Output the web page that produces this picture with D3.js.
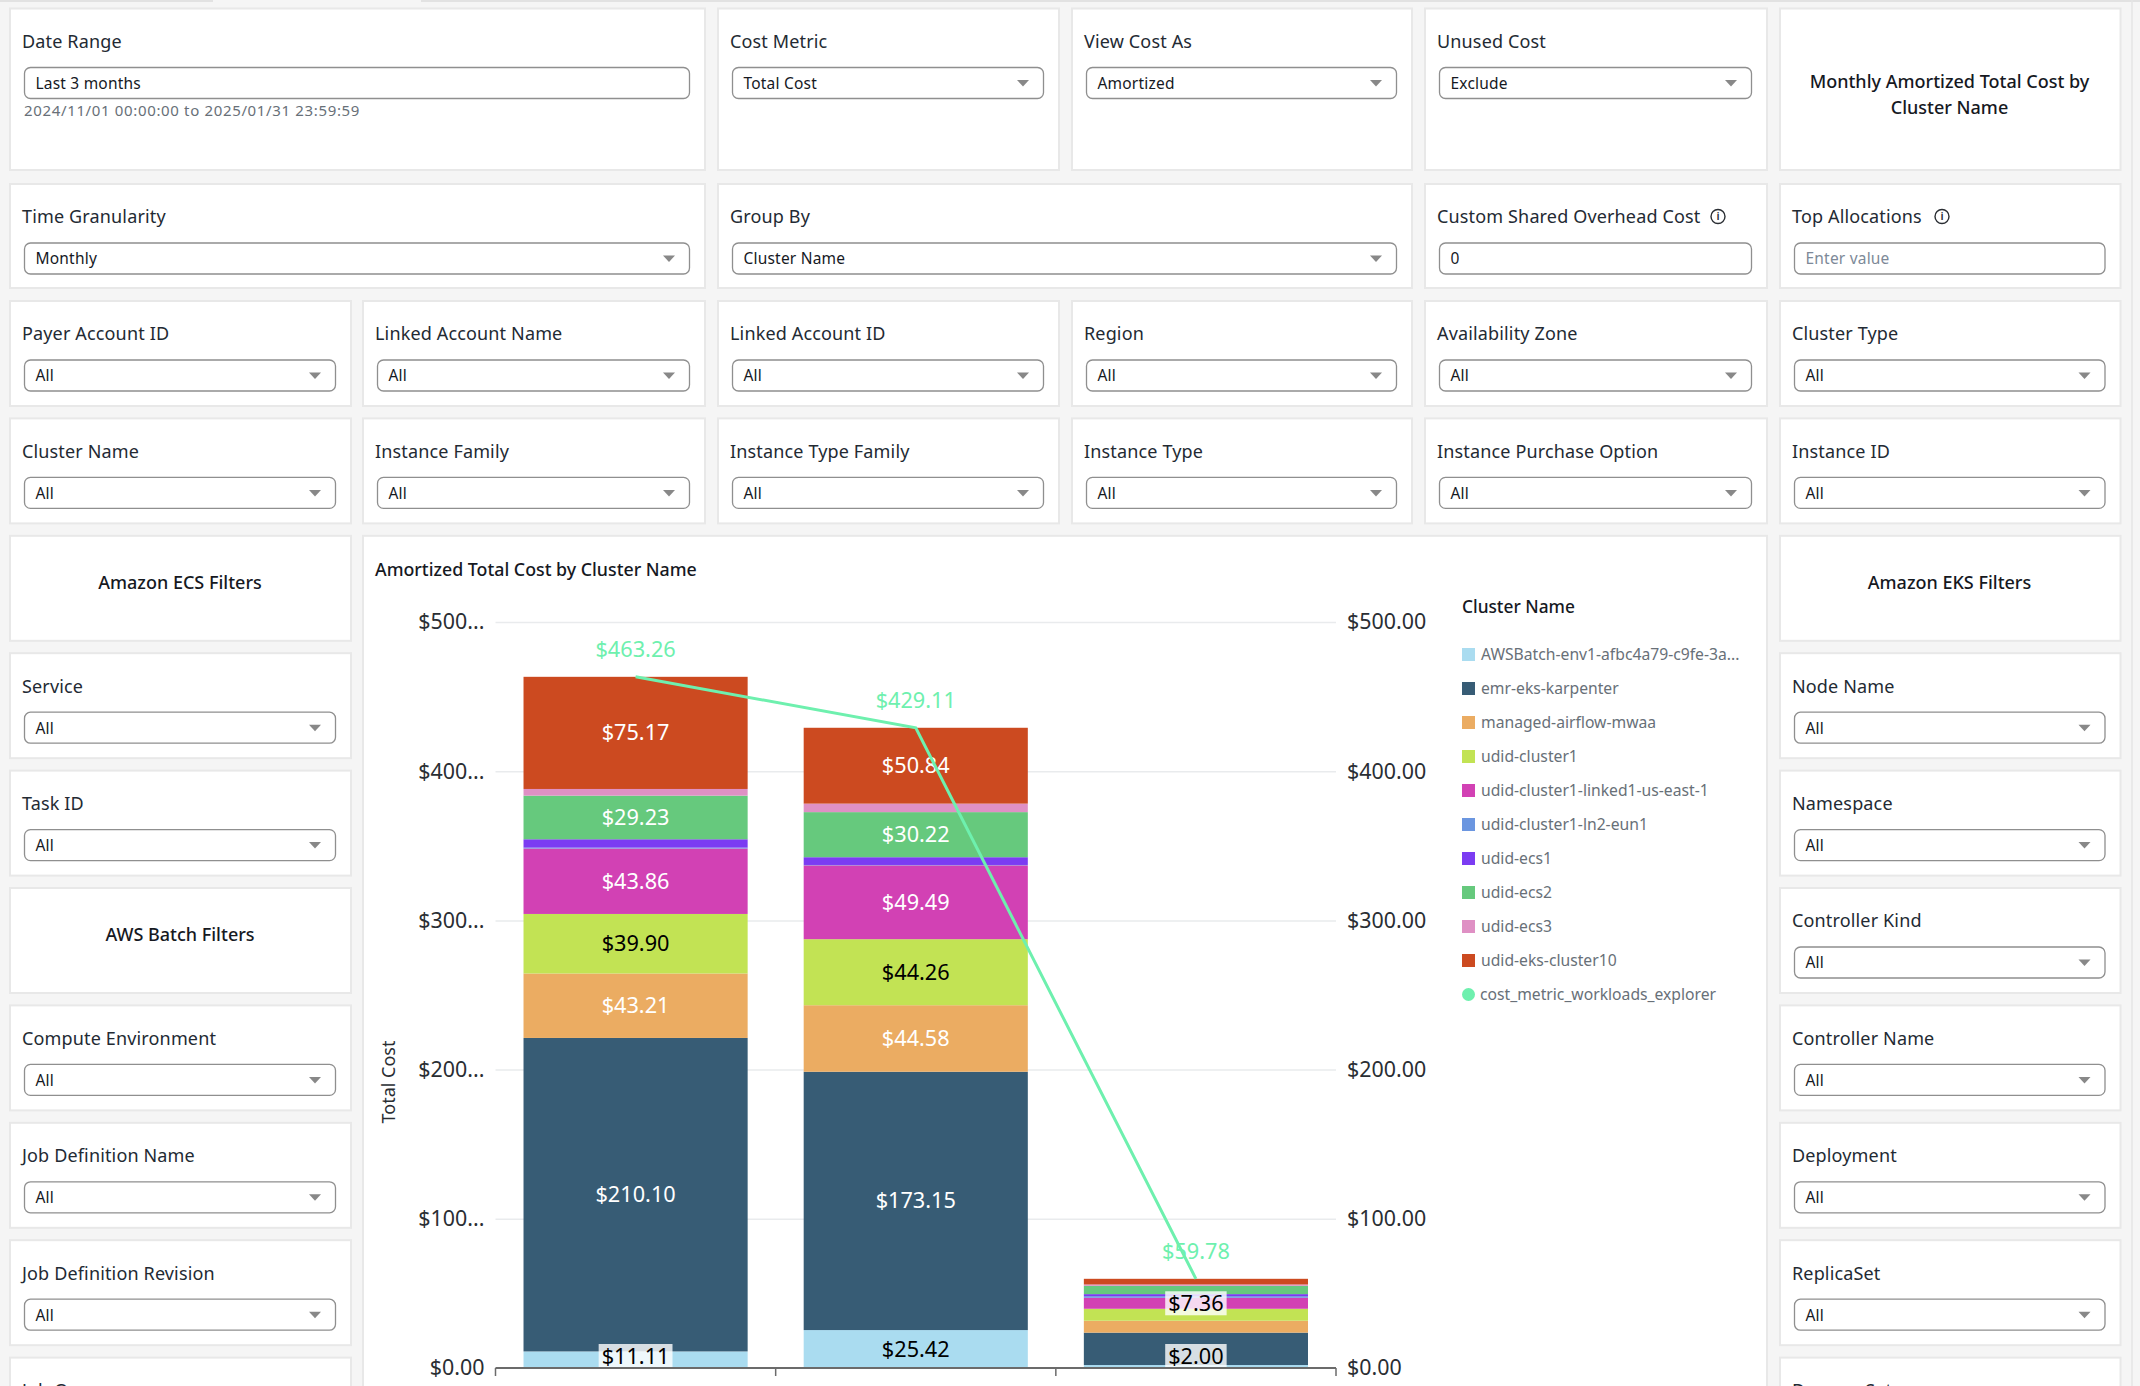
<!DOCTYPE html>
<html>
<head>
<meta charset="utf-8">
<title>Amortized Total Cost by Cluster Name</title>
<script src="https://cdn.jsdelivr.net/npm/d3@7"></script>
<style>
  html, body { margin: 0; padding: 0; background: #f5f5f5; overflow: hidden; }
  text { font-family: "Noto Sans", sans-serif; }
  .panel { fill: #fff; stroke: #e8e8e8; stroke-width: 2; }
  .box { fill: #fff; stroke: #8f8f8f; stroke-width: 1.3; }
  .label { font-size: 18px; letter-spacing: .15px; fill: #232a33; }
  .value { font-size: 15.5px; letter-spacing: .2px; fill: #16191f; }
  .heading { font-size: 18px; fill: #16191f; font-weight: 500; text-anchor: middle; }
  .axis text { font-size: 21.4px; fill: #2a2e33; }
  .seg { font-size: 21.7px; text-anchor: middle; }
  .legend { font-size: 15.7px; fill: #687078; }
</style>
</head>
<body>
<svg id="chart" width="2140" height="1386"></svg>
<script>
const months = ['Nov 2024', 'Dec 2024', 'Jan 2025'];
const clusters = [
  'AWSBatch-env1-afbc4a79-c9fe-3a...', 'emr-eks-karpenter', 'managed-airflow-mwaa', 'udid-cluster1',
  'udid-cluster1-linked1-us-east-1', 'udid-cluster1-ln2-eun1', 'udid-ecs1', 'udid-ecs2', 'udid-ecs3', 'udid-eks-cluster10'
];
const lineName = 'cost_metric_workloads_explorer';
const nov = [11.11, 210.10, 43.21, 39.90, 43.86, 0.6, 5.6, 29.23, 4.48, 75.17];
const dec = [25.42, 173.15, 44.58, 44.26, 49.49, 0.25, 5.2, 30.22, 5.7, 50.84];
const jan = [2.00, 21.7, 8.0, 8.0, 7.36, 1.1, 1.36, 5.56, 0.9, 3.8];
const totals = [463.26, 429.11, 59.78];
const labelled = [[0, 1, 2, 3, 4, 7, 9], [0, 1, 2, 3, 4, 7, 9], [0, 4]];
const boxedLabels = [[0], [], [0, 4]];
const colors = ['#aadcf0', '#375c75', '#ebac62', '#c2e354', '#d241b4', '#6b96e0', '#7b3cf2', '#66c97d', '#df90c4', '#cc4a20'];
const darkText = [0, 3];
const lineColor = '#6ef0ae';
const yTicks = [0, 100, 200, 300, 400, 500];

const row3 = ['Payer Account ID', 'Linked Account Name', 'Linked Account ID', 'Region', 'Availability Zone', 'Cluster Type'];
const row4 = ['Cluster Name', 'Instance Family', 'Instance Type Family', 'Instance Type', 'Instance Purchase Option', 'Instance ID'];
const leftStack = ['Service', 'Task ID', null, 'Compute Environment', 'Job Definition Name', 'Job Definition Revision', 'Job Queue'];
const rightStack = ['Node Name', 'Namespace', 'Controller Kind', 'Controller Name', 'Deployment', 'ReplicaSet', 'DaemonSet'];

const svg = d3.select('#chart');
const colX = [10, 363, 718, 1072, 1425, 1780];
const colEnd = [351, 705, 1059, 1412, 1767, 2120.5];
const rowY = i => 301 + 117.4 * i;

// top tab strip and page edge
svg.append('line').attr('x1', 0).attr('x2', 213).attr('y1', 1).attr('y2', 1).attr('stroke', '#e2e2e2').attr('stroke-width', 2);
svg.append('line').attr('x1', 421).attr('x2', 2140).attr('y1', 1).attr('y2', 1).attr('stroke', '#e2e2e2').attr('stroke-width', 2);
svg.append('line').attr('x1', 2132).attr('x2', 2132).attr('y1', 0).attr('y2', 1386).attr('stroke', '#e4e4e4').attr('stroke-width', 1.5);

function panel(c0, c1, y, h) {
  return svg.append('rect').attr('class', 'panel')
    .attr('x', colX[c0]).attr('y', y)
    .attr('width', colEnd[c1] - colX[c0]).attr('height', h);
}

function field(name, value, c0, c1, y, h, opts = {}) {
  panel(c0, c1, y, h);
  const x = colX[c0], right = colEnd[c1];
  svg.append('text').attr('class', 'label').attr('x', x + 12).attr('y', y + 33).attr('dy', '.35em').text(name);
  svg.append('rect').attr('class', 'box')
    .attr('x', x + 14.5).attr('y', y + 59).attr('width', right - x - 30).attr('height', 31).attr('rx', 6);
  svg.append('text').attr('class', 'value').attr('x', x + 25.5).attr('y', y + 75).attr('dy', '.35em')
    .style('fill', opts.placeholder ? '#7d8998' : null)
    .text(value);
  if (!opts.input) {
    const cx = right - 36, cy = y + 74.5;
    svg.append('path').attr('fill', '#888')
      .attr('d', d3.line()([[cx - 6, cy - 3], [cx + 6, cy - 3], [cx, cy + 3.5]]) + 'Z');
  }
}

function infoIcon(cx, cy) {
  svg.append('circle').attr('cx', cx).attr('cy', cy).attr('r', 7).attr('fill', 'none').attr('stroke', '#2a2e33').attr('stroke-width', 1.4);
  svg.append('text').attr('x', cx).attr('y', cy).attr('dy', '.36em').attr('text-anchor', 'middle')
    .style('font-size', '11px').style('font-weight', 600).attr('fill', '#2a2e33').text('i');
}

// top rows
field('Date Range', 'Last 3 months', 0, 1, 8.5, 161.5, { input: true });
svg.append('text').attr('x', 24).attr('y', 111).attr('dy', '.35em').style('font-size', '15px').style('letter-spacing', '.65px').attr('fill', '#687078')
  .text('2024/11/01 00:00:00 to 2025/01/31 23:59:59');
field('Cost Metric', 'Total Cost', 2, 2, 8.5, 161.5);
field('View Cost As', 'Amortized', 3, 3, 8.5, 161.5);
field('Unused Cost', 'Exclude', 4, 4, 8.5, 161.5);
panel(5, 5, 8.5, 161.5);
svg.append('text').attr('class', 'heading').attr('x', 1949.5).attr('y', 82).attr('dy', '.35em').text('Monthly Amortized Total Cost by');
svg.append('text').attr('class', 'heading').attr('x', 1949.5).attr('y', 108).attr('dy', '.35em').text('Cluster Name');

field('Time Granularity', 'Monthly', 0, 1, 184, 104);
field('Group By', 'Cluster Name', 2, 3, 184, 104);
field('Custom Shared Overhead Cost', '0', 4, 4, 184, 104, { input: true });
field('Top Allocations', 'Enter value', 5, 5, 184, 104, { input: true, placeholder: true });
infoIcon(1718, 216.5);
infoIcon(1942, 216.5);

row3.forEach((name, i) => field(name, 'All', i, i, rowY(0), 105));
row4.forEach((name, i) => field(name, 'All', i, i, rowY(1), 105));

// side stacks
panel(0, 0, rowY(2), 105);
svg.append('text').attr('class', 'heading').attr('x', 180).attr('y', rowY(2) + 47).attr('dy', '.35em').text('Amazon ECS Filters');
leftStack.forEach((name, i) => {
  if (name) field(name, 'All', 0, 0, rowY(3 + i), 105);
});
panel(0, 0, rowY(5), 105);
svg.append('text').attr('class', 'heading').attr('x', 180).attr('y', rowY(5) + 47).attr('dy', '.35em').text('AWS Batch Filters');

panel(5, 5, rowY(2), 105);
svg.append('text').attr('class', 'heading').attr('x', 1949.5).attr('y', rowY(2) + 47).attr('dy', '.35em').text('Amazon EKS Filters');
rightStack.forEach((name, i) => field(name, 'All', 5, 5, rowY(3 + i), 105));

// chart panel
panel(1, 4, rowY(2), 900);
svg.append('text').attr('x', 375).attr('y', 570).attr('dy', '.35em').style('font-size', '17.8px').style('font-weight', 500).attr('fill', '#16191f')
  .text('Amortized Total Cost by Cluster Name');

const x = d3.scaleBand().domain(months).range([495.5, 1336]).paddingInner(0.2).paddingOuter(0.1);
const y = d3.scaleLinear().domain([0, 500]).range([1368, 622]);

svg.append('g').attr('class', 'grid').attr('transform', 'translate(495.5,0)')
  .call(d3.axisLeft(y).tickValues(yTicks.slice(1)).tickSize(-840.5).tickFormat(''))
  .call(g => g.select('.domain').remove())
  .call(g => g.selectAll('line').attr('stroke', '#e9ebed').attr('stroke-width', 1.5));

const rowsByMonth = [nov, dec, jan];
const table = months.map((m, i) => {
  const row = { month: m };
  clusters.forEach((c, j) => { row[c] = rowsByMonth[i][j]; });
  return row;
});
const stacked = d3.stack().keys(clusters)(table);

svg.append('g').selectAll('g').data(stacked).join('g')
  .attr('fill', (d, i) => colors[i])
  .selectAll('rect').data(d => d).join('rect')
  .attr('x', d => x(d.data.month))
  .attr('y', d => y(d[1]))
  .attr('width', x.bandwidth())
  .attr('height', d => y(d[0]) - y(d[1]));

// segment labels
stacked.forEach((layer, s) => {
  layer.forEach((d, m) => {
    if (!labelled[m].includes(s)) return;
    const cx = x(d.data.month) + x.bandwidth() / 2;
    const cy = Math.min(y((d[0] + d[1]) / 2), y(0) - 12);
    const txt = d3.format('$.2f')(d[1] - d[0]);
    const g = svg.append('g');
    const t = g.append('text').attr('class', 'seg').attr('x', cx).attr('y', cy).attr('dy', '.35em')
      .attr('fill', darkText.includes(s) || boxedLabels[m].includes(s) ? '#000' : '#fff')
      .text(txt);
    if (boxedLabels[m].includes(s)) {
      const w = t.node().getComputedTextLength() + 6;
      g.insert('rect', 'text').attr('x', cx - w / 2).attr('y', cy - 12).attr('width', w).attr('height', 24)
        .attr('fill', '#fff').attr('fill-opacity', 0.8);
    }
  });
});

// axes
svg.append('g').attr('class', 'axis').attr('transform', 'translate(495.5,0)')
  .call(d3.axisLeft(y).tickValues(yTicks).tickSize(0).tickPadding(11).tickFormat(d => d === 0 ? '$0.00' : `$${d}...`))
  .call(g => g.select('.domain').remove());
svg.append('g').attr('class', 'axis').attr('transform', 'translate(1336,0)')
  .call(d3.axisRight(y).tickValues(yTicks).tickSize(0).tickPadding(11).tickFormat(d3.format('$.2f')))
  .call(g => g.select('.domain').remove());

svg.append('line').attr('x1', 495.5).attr('x2', 1336).attr('y1', y(0)).attr('y2', y(0)).attr('stroke', '#6b6b6b').attr('stroke-width', 2);
const tickEdges = d3.range(months.length + 1).map(i => x.step() * i + 495.5);
svg.append('g').selectAll('line').data(tickEdges).join('line')
  .attr('x1', d => d).attr('x2', d => d).attr('y1', y(0)).attr('y2', y(0) + 8)
  .attr('stroke', '#6b6b6b').attr('stroke-width', 1.5);
svg.append('g').attr('class', 'axis').attr('transform', `translate(0,${y(0)})`)
  .call(d3.axisBottom(x).tickSize(0).tickPadding(26))
  .call(g => g.select('.domain').remove());

svg.append('text').attr('transform', 'translate(388.5,1082) rotate(-90)').attr('text-anchor', 'middle').attr('dy', '.35em')
  .style('font-size', '18px').attr('fill', '#2a2e33').text('Total Cost');

// total line
const points = months.map((m, i) => [x(m) + x.bandwidth() / 2, y(totals[i])]);
svg.append('path').attr('fill', 'none').attr('stroke', lineColor).attr('stroke-width', 3)
  .attr('d', d3.line()(points));
svg.append('g').selectAll('text').data(totals).join('text')
  .attr('class', 'seg')
  .attr('x', (d, i) => points[i][0])
  .attr('y', d => y(d) - 27)
  .attr('dy', '.35em')
  .attr('fill', lineColor)
  .text(d3.format('$.2f'));

// legend
svg.append('text').attr('x', 1462).attr('y', 607).attr('dy', '.35em').style('font-size', '17.3px').style('font-weight', 500).attr('fill', '#16191f').text('Cluster Name');
const legendY = d3.scalePoint().domain(d3.range(clusters.length + 1)).range([654.5, 994.5]);
svg.append('g').selectAll('rect').data(clusters).join('rect')
  .attr('x', 1462).attr('y', (d, i) => legendY(i) - 6.5).attr('width', 13).attr('height', 13)
  .attr('fill', (d, i) => colors[i]);
svg.append('g').selectAll('text').data(clusters).join('text')
  .attr('class', 'legend').attr('x', 1481).attr('y', (d, i) => legendY(i)).attr('dy', '.35em').text(d => d);
svg.append('circle').attr('cx', 1468.5).attr('cy', legendY(clusters.length)).attr('r', 6.5).attr('fill', lineColor);
svg.append('text').attr('class', 'legend').attr('x', 1480).attr('y', legendY(clusters.length)).attr('dy', '.35em').text(lineName);
</script>
</body>
</html>
